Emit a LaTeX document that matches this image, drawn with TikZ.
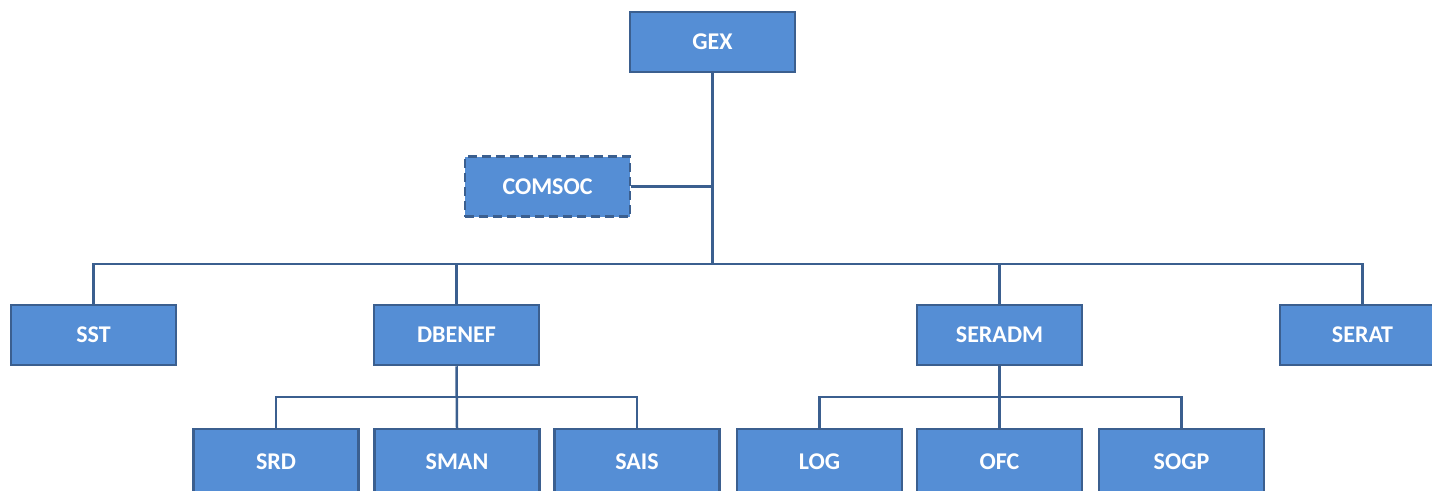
\documentclass[tikz,border=0pt]{standalone}
\usepackage{fontspec}
\setmainfont{Carlito}
\definecolor{boxfill}{HTML}{558ED5}
\definecolor{boxline}{HTML}{3B5F8F}
\begin{document}
\begin{tikzpicture}[x=1pt,y=-1pt,
  orgbox/.style={draw=boxline, fill=boxfill, line width=2.5pt, minimum width=165pt, minimum height=60pt, inner sep=0pt,
    text=white, font=\fontsize{24}{28}\selectfont\bfseries},
  link/.style={draw=boxline, line width=2.5pt}]
\useasboundingbox (0,0) rectangle (1432,490);
\clip (0,0) rectangle (1432,490);
\node[orgbox] (gex) at (712.5,42) {GEX};
\node[orgbox, dash pattern=on 9pt off 5pt] (comsoc) at (547.5,186.5) {COMSOC};
\node[orgbox] (sst) at (93.5,335) {SST};
\node[orgbox] (dbenef) at (456.5,335) {DBENEF};
\node[orgbox] (seradm) at (999.5,335) {SERADM};
\node[orgbox] (serat) at (1362.5,335) {SERAT};
\node[orgbox, minimum height=66pt] (srd) at (276,462) {SRD};
\node[orgbox, minimum height=66pt] (sman) at (457,462) {SMAN};
\node[orgbox, minimum height=66pt] (sais) at (637,462) {SAIS};
\node[orgbox, minimum height=66pt] (log) at (819.5,462) {LOG};
\node[orgbox, minimum height=66pt] (ofc) at (999.5,462) {OFC};
\node[orgbox, minimum height=66pt] (sogp) at (1181.5,462) {SOGP};
\coordinate (bus) at (712.5,264);
\coordinate (sub1) at (456.5,397);
\coordinate (sub2) at (999.5,397);
\draw[link] (gex.south) -- (bus);
\draw[link] (comsoc.east) -- (comsoc.east -| gex.south);
\draw[link] (sst.north) |- (bus) -| (serat.north);
\draw[link] (dbenef.north) -- (dbenef.north |- bus);
\draw[link] (seradm.north) -- (seradm.north |- bus);
\draw[link] (dbenef.south) -- (sman.north);
\draw[link] (srd.north) |- (sub1) -| (sais.north);
\draw[link] (seradm.south) -- (ofc.north);
\draw[link] (log.north) |- (sub2) -| (sogp.north);
\end{tikzpicture}
\end{document}
